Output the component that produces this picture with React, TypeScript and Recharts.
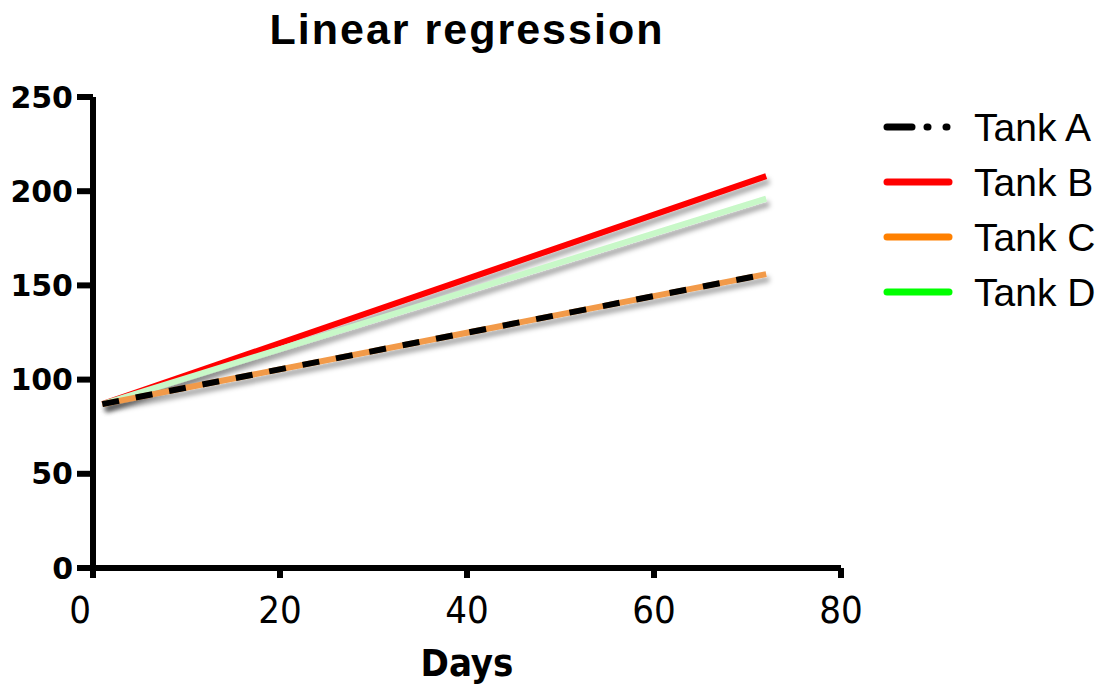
import React from 'react';
import { LineChart, Line, XAxis, YAxis, Legend } from 'recharts';

// regression lines (start and end of each fit)
const days = [1, 72];
const tankA = [87, 156];
const tankB = [87, 208];
const tankC = [87, 156];
const tankD = [87, 196];

const xTicks = [0, 20, 40, 60, 80];
const yTicks = [0, 50, 100, 150, 200, 250];

const seriesNames = ['Tank A', 'Tank B', 'Tank C', 'Tank D'];
const legendColors = ['#000000', '#ff0000', '#ff8000', '#00ff00'];

const data = days.map((d, i) => ({
  day: d,
  a: tankA[i],
  b: tankB[i],
  c: tankC[i],
  d: tankD[i],
}));

const LegendBox = () => (
  <svg width={228} height={230}>
    {seriesNames.map((name, i) => {
      const y = 27 + i * 55;
      return (
        <g key={name}>
          {i === 0 ? (
            <g stroke="#000" strokeWidth={7} strokeLinecap="round">
              <line x1={10} y1={y} x2={35} y2={y} />
              <line x1={50} y1={y} x2={51} y2={y} />
              <line x1={69} y1={y} x2={70} y2={y} />
            </g>
          ) : (
            <line
              x1={10}
              y1={y}
              x2={72}
              y2={y}
              stroke={legendColors[i]}
              strokeWidth={7}
              strokeLinecap="round"
            />
          )}
          <text
            x={97}
            y={y + 14}
            fontFamily="Liberation Sans, Arial, sans-serif"
            fontSize={39}
            fill="#000"
          >
            {name}
          </text>
        </g>
      );
    })}
  </svg>
);

// the 0 label sits a little left of its tick in the original
const XTick = (props: any) => {
  const { x, y, payload } = props;
  const shift = payload.value === 0 ? -13 : 0;
  return (
    <text
      x={x + shift}
      y={y}
      dy="0.71em"
      textAnchor="middle"
      fill="#000"
      fontSize={38}
      fontFamily="DejaVu Sans Condensed, DejaVu Sans, sans-serif"
      style={{ fontStretch: 'condensed' }}
    >
      {payload.value}
    </text>
  );
};

const App: React.FC = () => {
  return (
    <div
      style={{
        position: 'absolute',
        left: 0,
        top: 0,
        width: 1108,
        height: 686,
        background: '#fff',
      }}
    >
      <div
        style={{
          position: 'absolute',
          left: 0,
          width: 934,
          top: 5,
          textAlign: 'center',
          fontFamily: 'Liberation Sans, Arial, sans-serif',
          fontWeight: 'bold',
          fontSize: 43,
          letterSpacing: 2,
          color: '#000',
        }}
      >
        Linear regression
      </div>
      <LineChart
        width={1108}
        height={686}
        data={data}
        margin={{ top: 97, right: 267, left: 0, bottom: 0 }}
      >
        <defs>
          <filter id="shadow" x="-10%" y="-10%" width="130%" height="140%">
            <feDropShadow dx={3} dy={5} stdDeviation={2.5} floodColor="#000" floodOpacity={0.35} />
          </filter>
        </defs>
        <XAxis
          dataKey="day"
          type="number"
          domain={[0, 80]}
          ticks={xTicks}
          height={118}
          axisLine={{ stroke: '#000', strokeWidth: 6 }}
          tickLine={{ stroke: '#000', strokeWidth: 6 }}
          tickSize={10}
          tickMargin={18}
          tick={<XTick />}
          label={{
            value: 'Days',
            position: 'insideBottom',
            offset: 10,
            fill: '#000',
            fontSize: 38,
            fontWeight: 'bold',
            fontFamily: 'DejaVu Sans Condensed, DejaVu Sans, sans-serif',
            style: { fontStretch: 'condensed' },
          }}
        />
        <YAxis
          type="number"
          domain={[0, 250]}
          ticks={yTicks}
          width={93}
          axisLine={{ stroke: '#000', strokeWidth: 6 }}
          tickLine={{ stroke: '#000', strokeWidth: 6 }}
          tickSize={16}
          tickMargin={4}
          tick={{
            fill: '#000',
            fontSize: 30,
            fontWeight: 'bold',
            fontFamily: 'DejaVu Sans, sans-serif',
          }}
        />
        <Legend
          layout="vertical"
          align="center"
          verticalAlign="middle"
          wrapperStyle={{ left: 877, top: 100, width: 228, height: 230 }}
          content={() => <LegendBox />}
        />
        <Line
          dataKey="b"
          name="Tank B"
          stroke="#ff0000"
          strokeWidth={6}
          dot={false}
          filter="url(#shadow)"
          isAnimationActive={false}
        />
        <Line
          dataKey="d"
          name="Tank D"
          stroke="#c8f8c8"
          strokeWidth={6}
          dot={false}
          filter="url(#shadow)"
          isAnimationActive={false}
        />
        <Line
          dataKey="c"
          name="Tank C"
          stroke="#f29a48"
          strokeWidth={6}
          dot={false}
          filter="url(#shadow)"
          isAnimationActive={false}
        />
        <Line
          dataKey="a"
          name="Tank A"
          stroke="#000000"
          strokeWidth={6}
          strokeDasharray="17 17"
          dot={false}
          isAnimationActive={false}
        />
      </LineChart>
    </div>
  );
};

export default App;
